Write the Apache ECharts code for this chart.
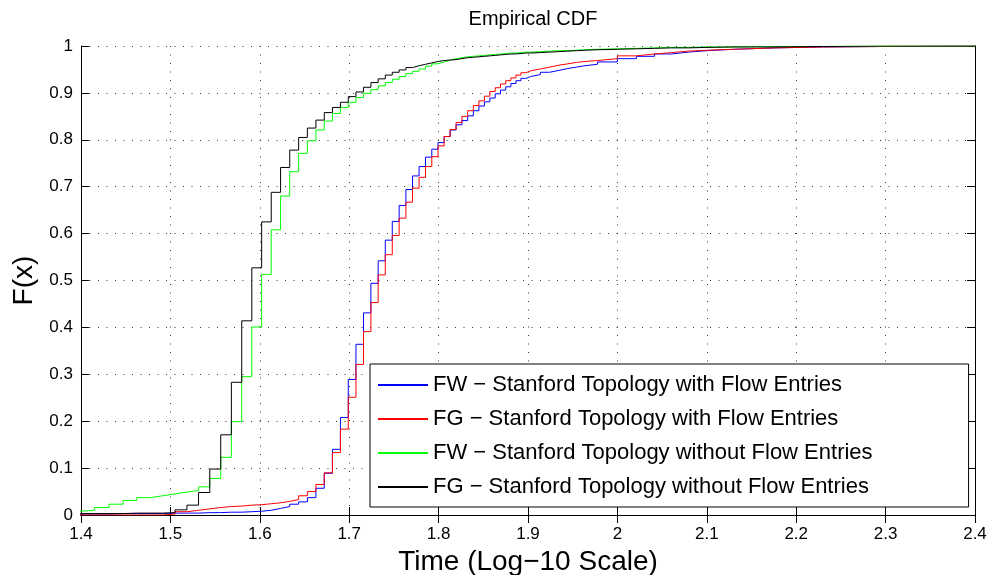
<!DOCTYPE html>
<html>
<head>
<meta charset="utf-8">
<script src="https://cdn.jsdelivr.net/npm/echarts@6/dist/echarts.min.js"></script>
<style>html,body{margin:0;padding:0;background:#fff}#c{width:990px;height:575px}</style>
</head>
<body>
<div id="c"></div>
<script>
// Sample times (integer units); x axis shows log10 of time
var times = [24,25,26,27,28,29,30,31,32,33,34,35,36,37,38,39,40,41,42,43,44,45,46,47,48,49,50,51,52,53,54,55,56,57,58,59,60,61,62,63,64,65,66,67,68,69,70,71,72,73,74,75,76,77,78,79,80,82,84,86,88,90,92,95,100,105,110,115,120,126,135,150,170,200,260];

var fwWith = [0.002,0.002,0.002,0.003,0.003,0.003,0.003,0.004,0.004,0.004,0.005,0.005,0.006,0.006,0.007,0.008,0.010,0.014,0.018,0.023,0.028,0.037,0.057,0.089,0.140,0.208,0.289,0.364,0.431,0.494,0.542,0.586,0.626,0.660,0.694,0.723,0.743,0.763,0.780,0.794,0.807,0.821,0.832,0.841,0.851,0.862,0.872,0.881,0.889,0.898,0.906,0.913,0.920,0.926,0.931,0.935,0.939,0.944,0.948,0.952,0.955,0.958,0.961,0.966,0.973,0.978,0.983,0.987,0.990,0.993,0.996,0.998,0.999,1.0,1.0];

var fgWith = [0.000,0.000,0.000,0.000,0.000,0.000,0.000,0.002,0.007,0.010,0.013,0.016,0.018,0.019,0.021,0.022,0.024,0.026,0.029,0.033,0.041,0.050,0.065,0.090,0.133,0.183,0.251,0.321,0.391,0.453,0.512,0.555,0.596,0.633,0.667,0.697,0.720,0.743,0.764,0.787,0.807,0.822,0.837,0.850,0.862,0.873,0.883,0.893,0.903,0.911,0.919,0.926,0.932,0.938,0.943,0.947,0.951,0.955,0.959,0.962,0.965,0.967,0.969,0.973,0.979,0.983,0.986,0.989,0.991,0.993,0.996,0.998,0.999,1.0,1.0];

var fwWithout = [0.008,0.010,0.016,0.023,0.031,0.037,0.041,0.045,0.049,0.052,0.060,0.078,0.123,0.199,0.295,0.401,0.513,0.608,0.680,0.732,0.771,0.798,0.821,0.840,0.856,0.869,0.880,0.890,0.899,0.907,0.915,0.922,0.929,0.935,0.941,0.946,0.951,0.957,0.962,0.966,0.970,0.973,0.975,0.977,0.978,0.979,0.980,0.981,0.982,0.983,0.984,0.985,0.985,0.986,0.987,0.987,0.988,0.989,0.990,0.990,0.991,0.992,0.993,0.994,0.995,0.996,0.997,0.997,0.998,0.998,0.999,0.999,1.0,1.0,1.0];

var fgWithout = [0.003,0.003,0.003,0.003,0.004,0.004,0.004,0.005,0.011,0.021,0.048,0.098,0.171,0.283,0.414,0.527,0.625,0.688,0.741,0.778,0.805,0.825,0.842,0.858,0.869,0.880,0.892,0.902,0.912,0.922,0.930,0.938,0.944,0.949,0.954,0.958,0.961,0.964,0.967,0.969,0.970,0.971,0.973,0.975,0.976,0.977,0.978,0.979,0.980,0.981,0.982,0.983,0.983,0.984,0.985,0.985,0.986,0.987,0.988,0.989,0.990,0.991,0.992,0.993,0.994,0.995,0.996,0.996,0.997,0.998,0.998,0.999,1.0,1.0,1.0];

var seriesNames = [
  'FW \u2212 Stanford Topology with Flow Entries',
  'FG \u2212 Stanford Topology with Flow Entries',
  'FW \u2212 Stanford Topology without Flow Entries',
  'FG \u2212 Stanford Topology without Flow Entries'
];
var seriesColors = ['#0000ff', '#ff0000', '#00ff00', '#000000'];
var seriesValues = [fwWith, fgWith, fwWithout, fgWithout];

var FONT = "'Liberation Sans', Arial, Helvetica, sans-serif";

function pts(vals) {
  return times.map(function (t, i) { return [Math.log10(t), vals[i]]; });
}
function fmt(v) { return String(parseFloat(Number(v).toFixed(1))); }

var chart = echarts.init(document.getElementById('c'), null, {renderer: 'canvas'});
var gridLine = {show: true, lineStyle: {color: '#333', width: 1, type: [1, 7.5]}};
var axLine = {show: true, lineStyle: {color: '#000', width: 1}};

chart.setOption({
  animation: false,
  backgroundColor: '#fff',
  title: {
    text: 'Empirical CDF', left: 528, top: 4, textAlign: 'center',
    textStyle: {fontFamily: FONT, fontSize: 20, fontWeight: 'normal', color: '#000'}
  },
  grid: {left: 81, right: 15, top: 46, bottom: 60, containLabel: false, outerBoundsMode: 'none'},
  legend: {
    orient: 'vertical', left: 370, top: 364,
    padding: [10, 96, 9, 8], itemGap: 12,
    itemWidth: 50, itemHeight: 2, icon: 'rect',
    backgroundColor: '#fff', borderColor: '#000', borderWidth: 1,
    textStyle: {fontFamily: FONT, fontSize: 22, color: '#000', lineHeight: 22},
    data: seriesNames
  },
  xAxis: [{
    type: 'value', min: 1.4, max: 2.4, interval: 0.1, position: 'bottom',
    name: 'Time (Log\u221210 Scale)', nameLocation: 'middle', nameGap: 28,
    nameTextStyle: {fontFamily: FONT, fontSize: 28, color: '#000'},
    axisLine: axLine,
    axisTick: {show: true, inside: true, length: 8, lineStyle: {color: '#000'}},
    axisLabel: {fontFamily: FONT, fontSize: 17, color: '#000', margin: 11, formatter: fmt},
    splitLine: gridLine
  }, {
    type: 'value', min: 1.4, max: 2.4, interval: 0.1, position: 'top',
    axisLine: axLine,
    axisTick: {show: true, inside: true, length: 8, lineStyle: {color: '#000'}},
    axisLabel: {show: false}, splitLine: {show: false}
  }],
  yAxis: [{
    type: 'value', min: 0, max: 1, interval: 0.1, position: 'left',
    name: 'F(x)', nameLocation: 'middle', nameGap: 39,
    nameTextStyle: {fontFamily: FONT, fontSize: 28, color: '#000'},
    axisLine: axLine,
    axisTick: {show: true, inside: true, length: 8, lineStyle: {color: '#000'}},
    axisLabel: {fontFamily: FONT, fontSize: 17, color: '#000', margin: 8, formatter: fmt},
    splitLine: gridLine
  }, {
    type: 'value', min: 0, max: 1, interval: 0.1, position: 'right',
    axisLine: axLine,
    axisTick: {show: true, inside: true, length: 8, lineStyle: {color: '#000'}},
    axisLabel: {show: false}, splitLine: {show: false}
  }],
  series: seriesNames.map(function (name, k) {
    return {
      name: name, type: 'line', step: 'end', showSymbol: false, symbol: 'none',
      xAxisIndex: 0, yAxisIndex: 0, clip: true,
      data: pts(seriesValues[k]),
      itemStyle: {color: seriesColors[k]},
      lineStyle: {color: seriesColors[k], width: 1}
    };
  })
});
</script>
</body>
</html>
